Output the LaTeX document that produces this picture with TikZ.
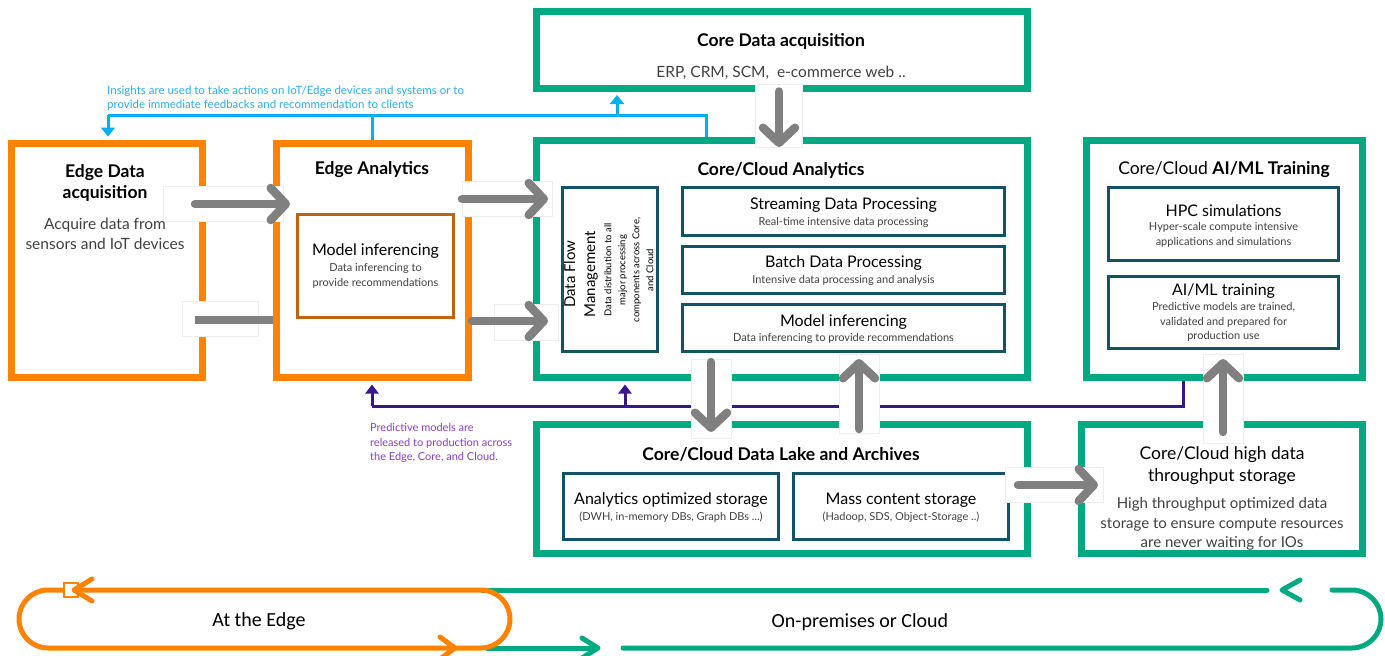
\documentclass[tikz,border=0pt]{standalone}
\usepackage{fontspec}
\setmainfont{Lato}
\newfontfamily\carl{Carlito}
\usetikzlibrary{arrows.meta}
\definecolor{hpeorange}{HTML}{FF8300}
\definecolor{hpegreen}{HTML}{01A982}
\definecolor{darkteal}{HTML}{135368}
\definecolor{brownbox}{HTML}{C2630F}
\definecolor{arrowgray}{HTML}{808080}
\definecolor{insblue}{HTML}{00B0F0}
\definecolor{insbluet}{HTML}{2AAEEF}
\definecolor{purpline}{HTML}{3A1788}
\definecolor{purptext}{HTML}{8A3CC4}
\definecolor{txtgray}{HTML}{404040}
\begin{document}
\begin{tikzpicture}[x=1pt,y=-1pt,
  obox/.style={draw=hpeorange, line width=7pt, inner sep=0pt},
  gbox/.style={draw=hpegreen, line width=7pt, inner sep=0pt},
  tbox/.style={draw=darkteal, line width=3.5pt, inner sep=0pt},
  bbox/.style={draw=brownbox, line width=3.5pt, inner sep=0pt},
  ttl/.style={font=\bfseries\fontsize{17.5}{21}\selectfont, align=center, inner sep=0pt},
  sub/.style={font=\fontsize{16}{19}\selectfont, align=center, inner sep=0pt},
  small/.style={font=\fontsize{11}{14.5}\selectfont, text=txtgray, align=center, inner sep=0pt},
  desc/.style={font=\fontsize{15.5}{20}\selectfont, text=txtgray, align=center, inner sep=0pt},
  wbg/.style={fill=white, draw=black!7, line width=0.6pt},
  garrow/.style={draw=arrowgray, line width=8.5pt, line cap=round, -{Straight Barb[length=15pt,width=32pt,round]}},
  gline/.style={draw=arrowgray, line width=8.5pt},
  bl/.style={draw=insblue, line width=3pt},
  blarrow/.style={bl, -{Triangle[length=9pt,width=14pt]}, shorten >=3.5pt},
  pl/.style={draw=purpline, line width=3pt},
  plarrow/.style={pl, -{Triangle[length=9pt,width=13pt]}, shorten >=3.5pt},
  loopo/.style={draw=hpeorange, line width=5pt, line cap=round, line join=round},
  loopg/.style={draw=hpegreen, line width=5pt, line cap=round, line join=round}
]
\useasboundingbox (0,0) rectangle (1385,656);

% ---------- main boxes ----------
\node[obox, minimum width=191pt, minimum height=234pt] (edge) at (107,260.5) {};
\node[obox, minimum width=192pt, minimum height=234pt] (eana) at (372.5,260.5) {};
\node[gbox, minimum width=491pt, minimum height=77pt] (cda) at (782,49.5) {};
\node[gbox, minimum width=491pt, minimum height=237pt] (cana) at (782,259) {};
\node[gbox, minimum width=276pt, minimum height=237pt] (aiml) at (1224.5,259) {};
\node[gbox, minimum width=491pt, minimum height=129pt] (lake) at (782,489) {};
\node[gbox, minimum width=281pt, minimum height=129pt] (hts) at (1222,489) {};

% ---------- inner boxes ----------
\node[bbox, minimum width=156pt, minimum height=103pt] (emi) at (375.5,266) {};
\node[tbox, minimum width=95pt, minimum height=164pt] (dfm) at (610,269.5) {};
\node[tbox, minimum width=322pt, minimum height=48pt] (stream) at (843.5,211.5) {};
\node[tbox, minimum width=322pt, minimum height=47pt] (batch) at (843.5,270) {};
\node[tbox, minimum width=322pt, minimum height=47pt] (cmi) at (843.5,328) {};
\node[tbox, minimum width=230pt, minimum height=73pt] (hpc) at (1223.5,224) {};
\node[tbox, minimum width=230pt, minimum height=72pt] (train) at (1223.5,312.5) {};
\node[tbox, minimum width=215pt, minimum height=66pt] (aos) at (671,506.5) {};
\node[tbox, minimum width=215pt, minimum height=66pt] (mcs) at (901,506.5) {};

% ---------- blue insight lines ----------
\coordinate (bL) at (108,115);
\coordinate (bR) at (706,115);
\coordinate (bU) at (617,115);
\draw[bl] (eana.north) -- (eana.north |- bL);
\draw[bl] (bL) -- (bR) -- (bR |- cana.north);
\draw[blarrow] (bL) -- (bL |- edge.north);
\draw[blarrow] (bU) -- (bU |- cda.south);

% ---------- purple release lines ----------
\coordinate (pL) at (372,406);
\coordinate (pM) at (625,406);
\coordinate (pR) at (1183,406);
\draw[pl] (pL) -- (pR) -- (pR |- aiml.south);
\draw[plarrow] (pL) -- (pL |- eana.south);
\draw[plarrow] (pM) -- (pM |- cana.south);

% ---------- gray flow arrows ----------
\fill[wbg] (163,186) rectangle (283,221);
\coordinate (a1s) at (195,204); \coordinate (a1e) at (290,204);
\draw[garrow] (a1s) -- (a1e);

\fill[wbg] (182,301) rectangle (258,336);
\coordinate (a2s) at (195,320);
\draw[gline] (a2s) -- (a2s -| eana.west);

\fill[wbg] (462,181) rectangle (552,216);
\coordinate (a3s) at (462,199); \coordinate (a3e) at (548,199);
\draw[garrow] (a3s) -- (a3e);

\fill[wbg] (494,304) rectangle (558,340);
\coordinate (a4e) at (548,321);
\draw[garrow] (a4e -| eana.east) -- (a4e);

\fill[wbg] (755,84) rectangle (802,147);
\coordinate (a5e) at (779,147);
\draw[garrow] (a5e |- cda.south) -- (a5e);

\fill[wbg] (691,359) rectangle (731,438);
\coordinate (a6s) at (711,362); \coordinate (a6e) at (711,432);
\draw[garrow] (a6s) -- (a6e);

\fill[wbg] (839,354) rectangle (879,433);
\coordinate (a7s) at (859,429); \coordinate (a7e) at (859,359);
\draw[garrow] (a7s) -- (a7e);

\fill[wbg] (1005,467) rectangle (1103,502);
\coordinate (a8s) at (1018,485); \coordinate (a8e) at (1098,485);
\draw[garrow] (a8s) -- (a8e);

\fill[wbg] (1203,354) rectangle (1243,443);
\coordinate (a9s) at (1223,432); \coordinate (a9e) at (1223,359);
\draw[garrow] (a9s) -- (a9e);

% ---------- texts ----------
\node[ttl] (edget) at (105,183) {Edge Data\\acquisition};
\node[desc] (edged) at (105,234) {Acquire data from\\sensors and IoT devices};
\node[ttl] (eanat) at (372,170) {Edge Analytics};
\node[sub] (emit) at (375.5,251) {Model inferencing};
\node[small] (emid) at (375.5,276) {Data inferencing to\\provide recommendations};

\node[ttl] (cdat) at (781,41) {Core Data acquisition};
\node[desc] (cdad) at (781,73) {ERP, CRM, SCM,\ \ e-commerce web ..};
\node[ttl] (canat) at (781,170) {Core/Cloud Analytics};

\node[rotate=90, font=\fontsize{15}{20}\selectfont, align=center, inner sep=0pt] (dfmt) at (581,274) {Data Flow\\Management};
\node[rotate=90, font=\fontsize{9.5}{14}\selectfont, align=center, inner sep=0pt] (dfmd) at (629,270) {Data distribution to all\\major processing\\components across Core,\\and Cloud};

\node[sub] (streamt) at (843.5,205) {Streaming Data Processing};
\node[small] (streamd) at (843.5,222) {Real-time intensive data processing};
\node[sub] (batcht) at (843.5,263) {Batch Data Processing};
\node[small] (batchd) at (843.5,280) {Intensive data processing and analysis};
\node[sub] (cmit) at (843.5,322) {Model inferencing};
\node[small] (cmid) at (843.5,338) {Data inferencing to provide recommendations};

\node[font=\fontsize{17.5}{21}\selectfont, inner sep=0pt] (aimlt) at (1224,170) {Core/Cloud \textbf{AI/ML Training}};
\node[sub] (hpct) at (1223.5,211) {HPC simulations};
\node[small] (hpcd) at (1223.5,235) {Hyper-scale compute intensive\\applications and simulations};
\node[sub] (traint) at (1223.5,291) {AI/ML training};
\node[small] (traind) at (1223.5,322) {Predictive models are trained,\\validated and prepared for\\production use};

\node[ttl] (laket) at (781,454) {Core/Cloud Data Lake and Archives};
\node[sub] (aost) at (671,500) {Analytics optimized storage};
\node[small] (aosd) at (671,517) {(DWH, in-memory DBs, Graph DBs ...)};
\node[sub] (mcst) at (901,500) {Mass content storage};
\node[small] (mcsd) at (901,517) {(Hadoop, SDS, Object-Storage ..)};

\node[font=\fontsize{17.5}{22}\selectfont, align=center, inner sep=0pt] (htst) at (1222,466) {Core/Cloud high data\\throughput storage};
\node[font=\fontsize{15}{19.5}\selectfont, text=txtgray, align=center, inner sep=0pt] (htsd) at (1222,524) {High throughput optimized data\\storage to ensure compute resources\\are never waiting for IOs};

\node[font=\fontsize{11.5}{14}\selectfont, text=insbluet, align=left, anchor=west, inner sep=0pt] (inst) at (107,98) {Insights are used to take actions on IoT/Edge devices and systems or to\\provide immediate feedbacks and recommendation to clients};
\node[font=\fontsize{11}{14.5}\selectfont, text=purptext, align=left, anchor=west, inner sep=0pt] (relt) at (370,443) {Predictive models are\\released to production across\\the Edge, Core, and Cloud.};

% ---------- bottom loops ----------
\draw[loopg] (482,590) -- (1267,590);
\draw[loopg] (1300,580) -- (1282,590) -- (1300,600);
\draw[loopg, rounded corners=29pt] (1332,590) -| (1381,648) -- (623,648);
\draw[loopg] (487,648) -- (596,648);
\draw[loopg] (582,638) -- (598,648) -- (582,658);
\draw[loopo, rounded corners=29pt] (19,590) rectangle (510,648);
\node[draw=hpeorange, fill=white, line width=1.5pt, minimum size=14pt, inner sep=0pt] (sq) at (71,590) {};
\draw[loopo] (92,579) -- (74,590) -- (92,601);
\draw[loopo] (440,637) -- (455,648) -- (440,659);
\node[font=\carl\fontsize{20}{22}\selectfont, inner sep=0pt] (edgel) at (259,621) {At the Edge};
\node[font=\carl\fontsize{20}{22}\selectfont, inner sep=0pt] (onpl) at (860,622) {On-premises or Cloud};
\end{tikzpicture}
\end{document}
